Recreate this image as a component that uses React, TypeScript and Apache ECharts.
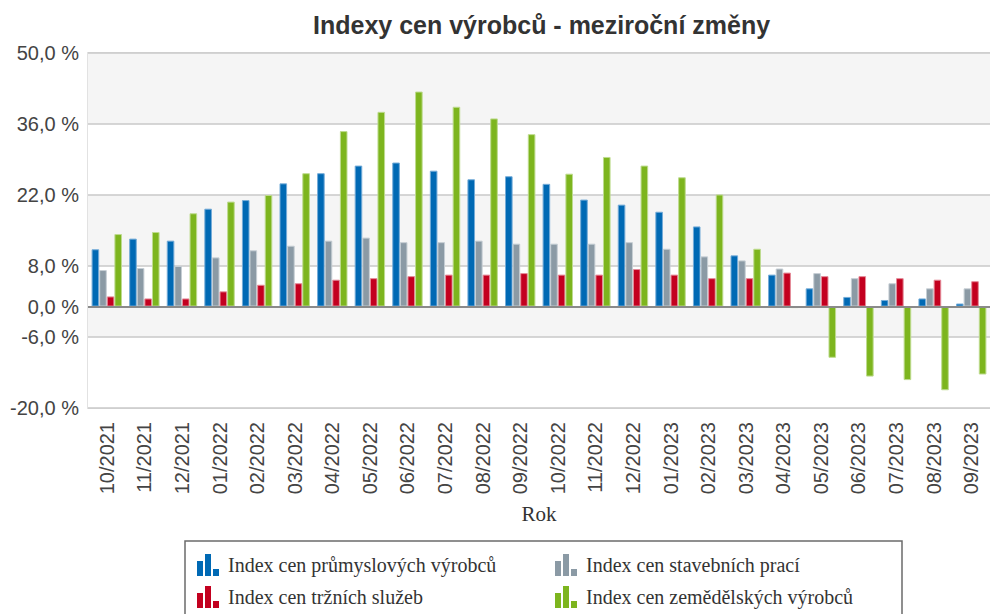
import React, { useEffect, useRef } from 'react';
import * as echarts from 'echarts';

const categories = [
  '10/2021', '11/2021', '12/2021', '01/2022', '02/2022', '03/2022', '04/2022', '05/2022',
  '06/2022', '07/2022', '08/2022', '09/2022', '10/2022', '11/2022', '12/2022', '01/2023',
  '02/2023', '03/2023', '04/2023', '05/2023', '06/2023', '07/2023', '08/2023', '09/2023',
];

const prumyslove = [11.3, 13.4, 13.0, 19.3, 21.0, 24.3, 26.3, 27.8, 28.4, 26.8, 25.1, 25.7, 24.2, 21.1, 20.1, 18.7, 15.8, 10.1, 6.3, 3.6, 1.9, 1.3, 1.6, 0.6];
const stavebni = [7.2, 7.6, 8.0, 9.7, 11.1, 12.0, 13.0, 13.6, 12.7, 12.7, 13.0, 12.4, 12.4, 12.4, 12.7, 11.4, 9.9, 9.1, 7.5, 6.6, 5.6, 4.6, 3.6, 3.6];
const trzni = [2.0, 1.6, 1.6, 3.0, 4.3, 4.6, 5.3, 5.6, 6.0, 6.3, 6.3, 6.6, 6.3, 6.3, 7.4, 6.3, 5.6, 5.6, 6.7, 6.0, 6.0, 5.6, 5.3, 5.0];
const zemedelske = [14.3, 14.7, 18.4, 20.7, 22.0, 26.3, 34.6, 38.4, 42.4, 39.4, 37.1, 34.0, 26.2, 29.5, 27.8, 25.5, 22.1, 11.4, -0.3, -10.1, -13.8, -14.5, -16.5, -13.4];

const yTicks = [-20, -6, 0, 8, 22, 36, 50];

const names = [
  'Index cen průmyslových výrobců',
  'Index cen stavebních prací',
  'Index cen tržních služeb',
  'Index cen zemědělských výrobců',
];

const colors = ['#0069b4', '#8b9aa5', '#c3001f', '#7db51e'];
const borders = ['#75acd8', '#c6ced4', '#e48a98', '#bedb8f'];

const icon = 'path://M0,7H6V22H0Z M8,0H14V22H8Z M16,15H22V22H16Z';

export default function App() {
  const ref = useRef<HTMLDivElement>(null);

  useEffect(() => {
    if (!ref.current) return;
    const chart = echarts.init(ref.current, null, { renderer: 'svg' });
    const values = [prumyslove, stavebni, trzni, zemedelske];
    const series = values.map((data, i) => ({
      name: names[i],
      type: 'bar',
      data,
      barWidth: 7.6,
      barGap: '0%',
      itemStyle: { color: colors[i], borderColor: borders[i], borderWidth: 1 },
      ...(i === 0
        ? {
            markLine: {
              silent: true,
              symbol: 'none',
              label: { show: false },
              lineStyle: { color: '#8a8a8a', width: 2, type: 'solid' },
              data: [{ yAxis: 0 }],
            },
          }
        : {}),
    }));

    const legendCommon = {
      orient: 'vertical',
      top: 554,
      padding: 0,
      itemWidth: 22,
      itemHeight: 22,
      itemGap: 10,
      selectedMode: false,
      icon,
      itemStyle: { borderWidth: 0 },
      textStyle: {
        fontFamily: 'Liberation Serif',
        fontSize: 20,
        color: '#333',
        padding: [0, 0, 0, 4],
      },
    };

    chart.setOption({
      animation: false,
      backgroundColor: '#ffffff',
      title: {
        text: 'Indexy cen výrobců - meziroční změny',
        left: 313,
        top: 12,
        padding: 0,
        textStyle: {
          fontFamily: 'Liberation Sans',
          fontSize: 25,
          fontWeight: 'bold',
          color: '#333',
        },
      },
      legend: [
        { ...legendCommon, left: 197, data: [names[0], names[2]] },
        { ...legendCommon, left: 555, data: [names[1], names[3]] },
      ],
      graphic: [
        {
          type: 'rect',
          z: -1,
          shape: { x: 185, y: 541, width: 717, height: 100 },
          style: { fill: '#ffffff', stroke: '#6b6b6b', lineWidth: 1.5 },
        },
      ],
      grid: {
        left: 88,
        top: 53,
        right: -10,
        bottom: 206,
        show: true,
        borderColor: '#e2e2e2',
        borderWidth: 2,
        backgroundColor: 'transparent',
      },
      xAxis: {
        type: 'category',
        data: categories,
        name: 'Rok',
        nameLocation: 'middle',
        nameGap: 95,
        nameTextStyle: { fontFamily: 'Liberation Serif', fontSize: 21, color: '#333' },
        axisLine: { show: false, onZero: false },
        axisTick: { show: false },
        axisLabel: {
          rotate: 90,
          margin: 14,
          interval: 0,
          fontFamily: 'Liberation Sans',
          fontSize: 20,
          color: '#444',
        },
      },
      yAxis: {
        type: 'value',
        min: -20,
        max: 50,
        axisLine: { show: false },
        axisTick: { show: false, customValues: yTicks },
        axisLabel: {
          customValues: yTicks,
          margin: 9,
          fontFamily: 'Liberation Sans',
          fontSize: 20,
          color: '#444',
          formatter: (v: number) => v.toFixed(1).replace('.', ',') + ' %',
        },
        splitLine: { show: true, lineStyle: { color: '#c9c9c9', width: 1.5 } },
        splitArea: { show: true, areaStyle: { color: ['#ffffff', '#f5f5f5'] } },
      },
      series,
    });
    return () => chart.dispose();
  }, []);

  return (
    <div
      ref={ref}
      style={{ position: 'fixed', left: 0, top: 0, width: 990, height: 614 }}
    />
  );
}
